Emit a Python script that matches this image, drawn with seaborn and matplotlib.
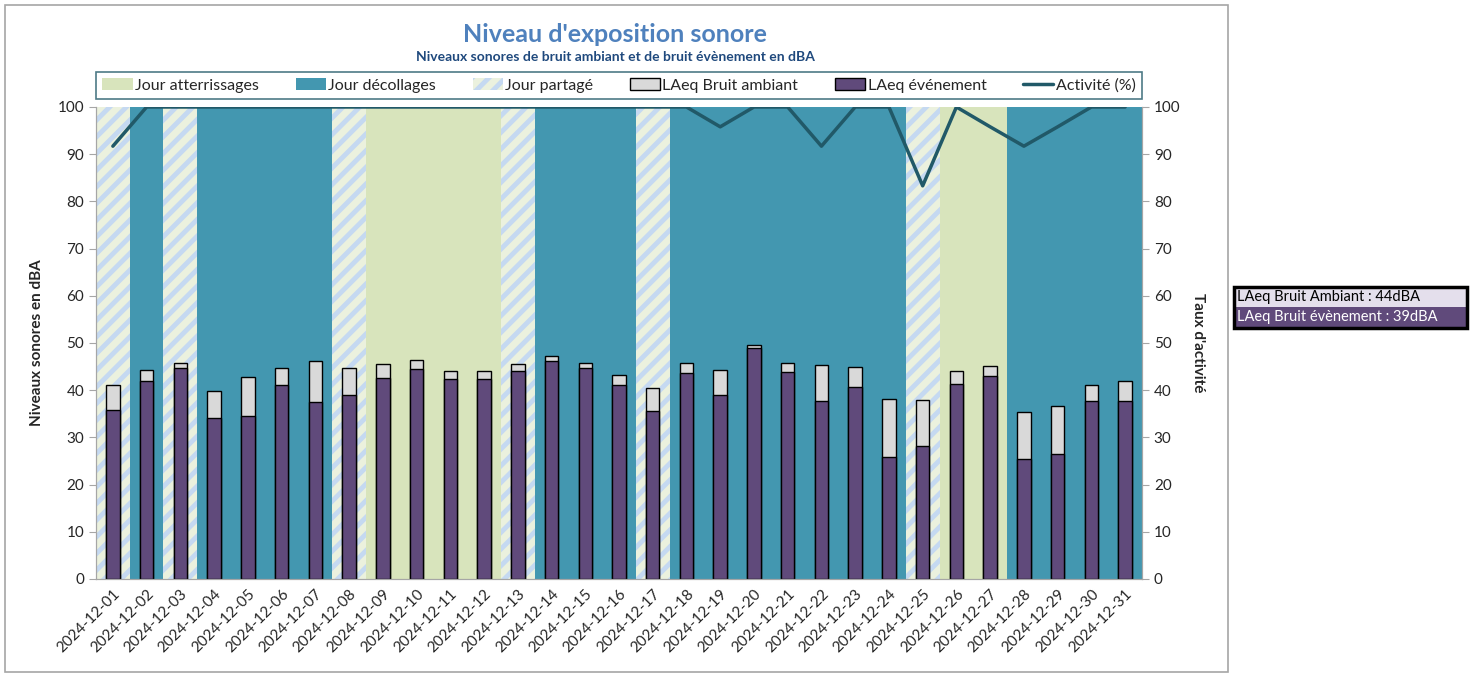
import numpy as np
import pandas as pd
import matplotlib.pyplot as plt
from matplotlib.patches import Patch, Rectangle
from matplotlib.lines import Line2D
import seaborn as sns

# Données
jours = list(pd.date_range('2024-12-01', '2024-12-31').strftime('%Y-%m-%d'))
# A = atterrissages, D = décollages, P = partagé
type_jour = ['P', 'D', 'P', 'D', 'D', 'D', 'D', 'P', 'A', 'A', 'A', 'A', 'P', 'D', 'D', 'D',
             'P', 'D', 'D', 'D', 'D', 'D', 'D', 'D', 'P', 'A', 'A', 'D', 'D', 'D', 'D']
bruit_ambiant = [41.0, 44.3, 45.8, 39.8, 42.9, 44.6, 46.1, 44.8, 45.6, 46.3, 44.1, 44.0, 45.6, 47.3, 45.8, 43.2,
                 40.5, 45.7, 44.2, 49.6, 45.8, 45.3, 44.9, 38.1, 38.0, 44.0, 45.2, 35.4, 36.7, 41.1, 42.0]
bruit_evenement = [35.7, 41.9, 44.6, 34.2, 34.5, 41.0, 37.6, 38.9, 42.5, 44.5, 42.4, 42.3, 44.1, 46.2, 44.8, 41.2,
                   35.6, 43.6, 38.9, 48.9, 43.9, 37.7, 40.6, 25.9, 28.1, 41.3, 43.0, 25.4, 26.4, 37.7, 37.7]
activite = [91.7, 100, 100, 100, 100, 100, 100, 100, 100, 100, 100, 100, 100, 100, 100, 100,
            100, 100, 95.8, 100, 100, 91.7, 100, 100, 83.3, 100, 95.8, 91.7, 95.8, 100, 100]

df = pd.DataFrame({'jour': jours, 'ambiant': bruit_ambiant, 'evenement': bruit_evenement, 'activite': activite})

c_att = '#D8E4BC'
c_dec = '#4397B0'
c_part_fond = '#EBF1DE'
c_part_hachure = '#C5D9F1'
c_ambiant = '#D9D9D9'
c_event = '#604A7B'
c_ligne = '#215968'

sns.set_style('white')
plt.rcParams['font.family'] = ['Lato', 'DejaVu Sans']
plt.rcParams['hatch.linewidth'] = 3.5

fig = plt.figure(figsize=(14.8, 6.75), dpi=100)
ax = fig.add_axes([96 / 1480, 1 - 579 / 675, (1142 - 96) / 1480, (579 - 107) / 675])

# Fond selon le type de jour
for i, t in enumerate(type_jour):
    if t == 'A':
        ax.axvspan(i - 0.5, i + 0.5, facecolor=c_att, edgecolor='none', zorder=0)
    elif t == 'D':
        ax.axvspan(i - 0.5, i + 0.5, facecolor=c_dec, edgecolor='none', zorder=0)
    else:
        ax.axvspan(i - 0.5, i + 0.5, facecolor=c_part_fond, edgecolor=c_part_hachure,
                   hatch='//', linewidth=0, zorder=0)

sns.barplot(data=df, x='jour', y='ambiant', color=c_ambiant, width=0.4,
            edgecolor='black', linewidth=1, saturation=1, ax=ax, zorder=2)
sns.barplot(data=df, x='jour', y='evenement', color=c_event, width=0.4,
            edgecolor='black', linewidth=1, saturation=1, ax=ax, zorder=3)

ax.set_xlim(-0.5, len(jours) - 0.5)
ax.set_ylim(0, 100)
ax.set_yticks(range(0, 101, 10))
ax.set_xlabel('')
ax.set_ylabel('Niveaux sonores en dBA', fontsize=11, fontweight='bold', labelpad=10)
ax.set_xticks(range(len(jours)))
ax.set_xticklabels(jours, rotation=45, ha='right', rotation_mode='anchor', fontsize=11)
ax.set_xticks(np.arange(-0.5, len(jours), 1), minor=True)
ax.tick_params(axis='x', which='major', length=0, pad=6)
ax.tick_params(axis='x', which='minor', length=5, color='#A6A6A6', direction='out')
ax.tick_params(axis='y', length=5, color='#A6A6A6', direction='out', labelsize=11, left=True)
for s in ['left', 'bottom', 'right']:
    ax.spines[s].set_color('#A6A6A6')
ax.spines['top'].set_visible(False)

# Axe secondaire : activité
ax2 = ax.twinx()
sns.lineplot(x=np.arange(len(jours)), y=activite, color=c_ligne, linewidth=2.5, ax=ax2, zorder=5)
ax2.set_ylim(0, 100)
ax2.set_xlim(-0.5, len(jours) - 0.5)
ax2.set_yticks(range(0, 101, 10))
ax2.tick_params(axis='y', length=5, color='#A6A6A6', direction='out', labelsize=11, right=True)
ax2.set_ylabel("Taux d'activité", fontsize=11, fontweight='bold', rotation=270, labelpad=18)
for s in ['left', 'bottom', 'right']:
    ax2.spines[s].set_color('#A6A6A6')
ax2.spines['top'].set_visible(False)

# Légende
handles = [
    Patch(facecolor=c_att, edgecolor='none', label='Jour atterrissages'),
    Patch(facecolor=c_dec, edgecolor='none', label='Jour décollages'),
    Patch(facecolor=c_part_fond, edgecolor=c_part_hachure, hatch='//', linewidth=0, label='Jour partagé'),
    Patch(facecolor=c_ambiant, edgecolor='black', label='LAeq Bruit ambiant'),
    Patch(facecolor=c_event, edgecolor='black', label='LAeq événement'),
    Line2D([], [], color=c_ligne, linewidth=2.5, label='Activité (%)'),
]
leg = ax2.legend(handles=handles, loc='lower left', bbox_to_anchor=(0, 1.017, 1, 0.059), mode='expand',
                 ncol=6, borderaxespad=0, frameon=True, fancybox=False, fontsize=11.5,
                 handlelength=1.9, handleheight=0.8, handletextpad=0.15, columnspacing=1.0)
leg.get_frame().set_edgecolor(c_ligne)
leg.get_frame().set_linewidth(1.2)

# Titres
fig.text(0.4155, 1 - 34 / 675, "Niveau d'exposition sonore", ha='center', va='center',
         fontsize=18, fontweight='bold', color='#4F81BD')
fig.text(0.4155, 1 - 57 / 675, 'Niveaux sonores de bruit ambiant et de bruit évènement en dBA',
         ha='center', va='center', fontsize=10, fontweight='bold', color='#1F497D')

# Cadre du graphique
fig.add_artist(Rectangle((5 / 1480, 1 - 672 / 675), (1228 - 5) / 1480, (672 - 5) / 675,
                         transform=fig.transFigure, fill=False, edgecolor='#A6A6A6', linewidth=1.2))

# Encadré des moyennes
x0, x1 = 1234 / 1480, 1467 / 1480
y_top, y_mid, y_bot = 1 - 287 / 675, 1 - 307 / 675, 1 - 328 / 675
fig.add_artist(Rectangle((x0, y_mid), x1 - x0, y_top - y_mid, transform=fig.transFigure,
                         facecolor='#E4DFEC', edgecolor='none'))
fig.add_artist(Rectangle((x0, y_bot), x1 - x0, y_mid - y_bot, transform=fig.transFigure,
                         facecolor=c_event, edgecolor='none'))
fig.add_artist(Rectangle((x0, y_bot), x1 - x0, y_top - y_bot, transform=fig.transFigure,
                         fill=False, edgecolor='black', linewidth=2.5))
fig.text(x0 + 0.002, (y_top + y_mid) / 2, 'LAeq Bruit Ambiant : 44dBA', ha='left', va='center',
         fontsize=10.5, color='black')
fig.text(x0 + 0.002, (y_mid + y_bot) / 2, 'LAeq Bruit évènement : 39dBA', ha='left', va='center',
         fontsize=10.5, color='white')

fig.savefig('out.png', dpi=100)
plt.close(fig)
